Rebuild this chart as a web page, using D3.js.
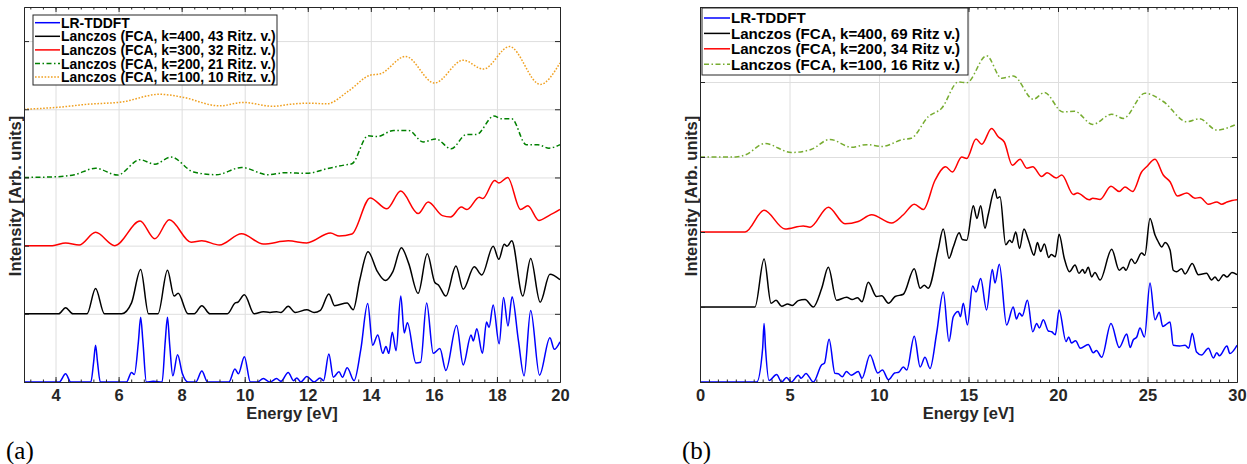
<!DOCTYPE html>
<html>
<head>
<meta charset="utf-8">
<script src="https://d3js.org/d3.v7.min.js"></script>
<style>
  body { margin: 0; background: #fff; }
  svg { display: block; font-family: "Liberation Sans", Arial, sans-serif; }
  .grid line { stroke: #dedede; stroke-width: 1; }
  .grid path { display: none; }
  .ax path, .ax line { stroke: #262626; stroke-width: 1; }
  .ax text { font-weight: bold; font-size: 16.5px; fill: #262626; }
</style>
</head>
<body>
<script>
// ---- panel (a) : energy [eV], intensity above each baseline ----
var leftTddft = [
  [3,0],[4.12,0],[4.32,0.12],[4.48,0],
  [5.12,0],[5.21,0.3],[5.27,0.54],[5.33,0.3],[5.42,0],
  [6.25,0],[6.41,0.14],[6.5,0.11],[6.63,0.6],[6.70,0.95],[6.77,0.6],[6.88,0],
  [7.1,0.01],[7.38,0],[7.48,0.6],[7.55,0.95],[7.62,0.55],[7.72,0.09],[7.87,0.40],[8.02,0.13],[8.2,0],
  [8.45,0],[8.64,0.16],[8.82,0],
  [9.5,0],[9.69,0.19],[9.8,0.12],[9.99,0.37],[10.18,0],
  [10.4,0],[10.59,0.05],[10.8,0],[11.01,0.05],[11.15,0.01],[11.38,0.14],[11.55,0.02],
  [11.65,0.06],[11.78,0],[11.97,0.08],[12.2,0],[12.39,0.06],[12.5,0.02],[12.67,0.41],
  [12.81,0.07],[12.99,0.15],[13.1,0.07],[13.25,0.21],[13.47,0.02],[13.68,0.47],[13.9,1.15],
  [14.06,0.54],[14.22,0.69],[14.38,0.42],[14.48,0.52],[14.57,0.42],[14.68,0.73],[14.8,0.46],
  [14.95,1.26],[15.06,0.72],[15.16,0.87],[15.43,0.28],[15.58,0.29],[15.77,1.16],[15.98,0.42],
  [16.19,0.49],[16.38,0.17],[16.72,0.83],[16.93,0.25],[17.18,0.69],[17.25,0.6],[17.36,0.78],
  [17.54,0.42],[17.67,0.88],[17.75,0.8],[17.88,1.13],[18.07,0.56],[18.21,1.24],[18.35,0.82],
  [18.48,1.25],[18.68,0.61],[18.86,0.09],[19.07,1.05],[19.35,0.1],[19.68,0.65],[19.82,0.48],[20,0.59]
];
var leftK400 = [
  [3,0],[4.1,0],[4.32,0.09],[4.55,0],
  [5.0,0],[5.27,0.37],[5.55,0],
  [6.1,0],[6.41,0.16],[6.70,0.65],[6.95,0],
  [7.25,0],[7.55,0.64],[7.76,0.26],[7.89,0.30],[8.2,0],
  [8.4,0],[8.64,0.12],[8.9,0],
  [9.45,0],[9.7,0.16],[9.78,0.17],[9.99,0.28],[10.3,0],
  [10.59,0.03],[10.8,0.02],[11.01,0.03],[11.15,0.02],[11.38,0.11],[11.6,0.02],[11.97,0.06],
  [12.2,0.02],[12.4,0.05],[12.67,0.29],[12.85,0.12],[13.25,0.16],[13.44,0.06],[13.65,0.5],
  [13.91,0.91],[14.21,0.62],[14.46,0.49],[14.7,0.62],[14.97,0.97],[15.2,0.74],[15.5,0.30],
  [15.79,0.88],[16.03,0.46],[16.15,0.42],[16.38,0.26],[16.7,0.70],[16.93,0.36],[17.28,0.69],
  [17.52,0.57],[17.88,0.99],[18.06,0.80],[18.23,1.02],[18.32,0.99],[18.47,1.07],[18.82,0.26],
  [19.07,0.81],[19.37,0.17],[19.68,0.58],[20,0.50]
];
var leftK300 = [
  [3,0],[3.9,0],[4.32,0.04],[4.75,0.01],[5.27,0.195],[5.88,0],[6.68,0.36],[7.15,0.10],
  [7.61,0.38],[8.3,0.05],[8.64,0.07],[9.2,0.01],[9.9,0.175],[10.59,0.025],[11.38,0.07],
  [11.97,0.04],[12.72,0.185],[13.0,0.14],[13.4,0.17],[13.98,0.70],[14.51,0.54],[14.95,0.80],
  [15.5,0.47],[15.82,0.64],[16.27,0.44],[16.53,0.42],[16.87,0.565],[17.05,0.53],[17.44,0.71],
  [17.55,0.69],[17.93,0.955],[18.06,0.92],[18.34,1.0],[18.75,0.53],[18.98,0.585],[19.33,0.37],
  [19.65,0.44],[20,0.53]
];
var leftK200 = [
  [3,0],[4.0,0.01],[4.6,0.04],[5.27,0.135],[5.96,0.035],[6.68,0.26],[7.15,0.195],[7.66,0.30],
  [8.38,0.08],[9.1,0.04],[9.9,0.146],[10.74,0.04],[11.3,0.07],[11.97,0.06],[12.6,0.127],
  [13.2,0.185],[13.4,0.2],[13.91,0.61],[14.2,0.60],[14.73,0.69],[15.2,0.69],[15.66,0.52],
  [16.06,0.565],[16.55,0.42],[17.03,0.63],[17.35,0.63],[17.9,0.90],[18.15,0.86],[18.47,0.86],
  [18.93,0.48],[19.3,0.48],[19.65,0.43],[20,0.48]
];
var leftK100 = [
  [3,0],[4.2,0.034],[5.0,0.073],[6.1,0.107],[7.3,0.22],[8.0,0.18],[9.2,0.05],[9.95,0.10],
  [10.9,0.044],[11.44,0.073],[12.0,0.09],[12.6,0.08],[13.3,0.27],[13.98,0.50],[14.3,0.52],
  [15.1,0.775],[16.02,0.385],[16.93,0.72],[17.57,0.59],[18.4,0.92],[19.37,0.365],[20,0.68]
];

// ---- panel (b) ----
var rightTddft = [
  [0,0],[3.17,0],[3.5,0.45],[3.58,0.78],[3.66,0.45],[3.86,0.02],[4.28,0.10],[4.56,0],[4.83,0.06],[5.1,0],[5.49,0.09],
  [5.65,0.05],[5.92,0.115],[6.33,0],[6.8,0.23],[6.95,0.25],[7.21,0.57],[7.54,0.115],[7.72,0.11],
  [7.95,0.07],[8.18,0.14],[8.45,0.09],[8.84,0.14],[9.05,0.05],[9.5,0.36],[9.93,0.12],[10.19,0.16],
  [10.53,0.03],[10.87,0.12],[11.1,0.13],[11.36,0.2],[11.55,0.16],[11.97,0.61],[12.3,0.2],
  [12.57,0.33],[12.85,0.18],[13.22,0.65],[13.59,1.2],[13.91,0.54],[14.15,0.87],[14.43,0.94],
  [14.55,0.87],[14.71,1.05],[14.94,0.76],[15.23,1.28],[15.42,1.2],[15.68,1.38],[16.01,0.96],
  [16.33,1.5],[16.48,1.32],[16.72,1.57],[17.13,0.76],[17.5,1.0],[17.68,0.84],[17.84,0.92],
  [18.0,0.88],[18.29,1.09],[18.59,0.67],[18.81,0.78],[18.96,0.72],[19.18,0.83],[19.46,0.68],
  [19.65,0.67],[19.85,0.63],[20.06,0.96],[20.45,0.54],[20.6,0.6],[20.75,0.52],[20.98,0.55],
  [21.25,0.45],[21.69,0.5],[21.97,0.39],[22.15,0.42],[22.44,0.33],[22.96,0.78],[23.42,0.46],
  [23.84,0.64],[24.03,0.46],[24.2,0.56],[24.4,0.6],[24.58,0.72],[24.83,0.6],[25.14,1.32],
  [25.42,0.83],[25.66,0.93],[25.85,0.74],[26.0,0.76],[26.26,0.8],[26.44,0.49],[26.8,0.48],
  [27.1,0.49],[27.3,0.45],[27.5,0.65],[27.74,0.4],[28.02,0.36],[28.4,0.45],[28.68,0.32],
  [28.87,0.39],[29.02,0.35],[29.44,0.48],[29.6,0.38],[30,0.49]
];
var rightK400 = [
  [0,0],[3.07,0],[3.58,0.64],[3.97,0.05],[4.25,0.09],[4.56,0.01],[4.9,0.04],[5.15,0.02],
  [5.49,0.085],[5.87,0.1],[6.33,0],[6.8,0.25],[7.17,0.53],[7.63,0.09],[8.19,0.13],[8.5,0.1],
  [8.8,0.125],[9.05,0.07],[9.4,0.33],[9.86,0.14],[10.15,0.15],[10.53,0.05],[10.9,0.14],
  [11.36,0.17],[11.97,0.51],[12.3,0.25],[12.53,0.29],[12.75,0.25],[13.3,0.76],[13.59,1.04],
  [13.91,0.65],[14.15,0.8],[14.48,0.99],[14.65,0.9],[14.9,0.89],[15.27,1.35],[15.47,1.18],
  [15.68,1.35],[15.92,1.05],[16.1,1.23],[16.48,1.57],[16.6,1.45],[16.76,1.47],[17.08,0.83],
  [17.3,0.89],[17.43,0.86],[17.64,1.0],[17.85,0.78],[18.1,1.04],[18.35,0.89],[18.66,0.69],
  [18.85,0.86],[19.03,0.74],[19.24,0.84],[19.48,0.66],[19.62,0.7],[19.85,0.67],[20.06,0.97],
  [20.35,0.65],[20.64,0.47],[20.95,0.56],[21.17,0.45],[21.38,0.5],[21.5,0.45],[21.69,0.53],
  [21.88,0.40],[22.06,0.46],[22.35,0.36],[23.0,0.77],[23.42,0.49],[23.65,0.53],[23.8,0.49],
  [24.1,0.64],[24.3,0.58],[24.67,0.72],[24.85,0.69],[25.14,1.18],[25.42,0.96],[25.6,0.87],
  [25.8,0.8],[25.98,0.86],[26.26,0.76],[26.44,0.49],[26.63,0.47],[26.9,0.51],[27.1,0.44],
  [27.5,0.58],[27.84,0.43],[28.3,0.45],[28.58,0.36],[28.77,0.4],[28.96,0.35],[29.25,0.43],
  [29.44,0.4],[29.72,0.46],[30,0.43]
];
var rightK200 = [
  [0,0],[2.52,0],[3.58,0.29],[4.75,0.04],[5.77,0.08],[6.15,0.065],[7.17,0.33],[8.1,0.11],
  [8.84,0.14],[9.59,0.23],[10.7,0.12],[11.36,0.23],[11.97,0.37],[12.48,0.30],[13.13,0.69],
  [13.72,0.87],[14.1,0.80],[14.62,1.0],[14.9,0.98],[15.42,1.24],[15.74,1.17],[16.29,1.38],
  [16.66,1.27],[17.0,1.2],[17.45,0.89],[17.88,0.97],[18.26,0.85],[18.59,0.87],[19.09,0.74],
  [19.39,0.79],[19.9,0.72],[20.21,0.76],[20.86,0.5],[21.08,0.52],[21.75,0.43],[21.94,0.45],
  [22.35,0.435],[22.96,0.61],[23.42,0.54],[23.74,0.6],[24.17,0.54],[24.67,0.8],[24.95,0.87],
  [25.42,0.97],[25.88,0.76],[26.26,0.67],[26.67,0.48],[27.2,0.52],[27.65,0.45],[27.94,0.46],
  [28.4,0.37],[28.87,0.4],[29.15,0.37],[29.44,0.4],[29.72,0.42],[30,0.43]
];
var rightK100 = [
  [0,0],[2.0,0],[2.55,0.03],[3.63,0.18],[5.1,0.06],[6.2,0.1],[7.26,0.235],[8.47,0.13],
  [9.31,0.165],[10.15,0.14],[11.36,0.235],[11.8,0.25],[12.76,0.54],[13.5,0.65],[14.43,1.0],
  [14.9,0.99],[16.01,1.35],[16.85,1.05],[17.5,1.08],[18.62,0.77],[19.24,0.86],[20.27,0.60],
  [20.92,0.61],[21.94,0.435],[23.0,0.57],[23.65,0.515],[24.86,0.85],[25.88,0.74],[27.2,0.47],
  [27.9,0.51],[28.87,0.36],[30,0.44]
];

var leftLabels = ["LR-TDDFT", "Lanczos (FCA, k=400, 43 Ritz. v.)", "Lanczos (FCA, k=300, 32 Ritz. v.)",
  "Lanczos (FCA, k=200, 21 Ritz. v.)", "Lanczos (FCA, k=100, 10 Ritz. v.)"];
var rightLabels = ["LR-TDDFT", "Lanczos (FCA, k=400, 69 Ritz v.)", "Lanczos (FCA, k=200, 34 Ritz v.)",
  "Lanczos (FCA, k=100, 16 Ritz v.)"];
var leftXTicks = [4, 6, 8, 10, 12, 14, 16, 18, 20];
var rightXTicks = [0, 5, 10, 15, 20, 25, 30];
var yTicks = [0, 1, 2, 3, 4, 5];

var styles = {
  blue:   { color: "#0000ff", dash: null },
  black:  { color: "#000000", dash: null },
  red:    { color: "#ff0000", dash: null },
  dgreen: { color: "#008000", dash: "5,2.5,1.5,2.5" },
  orange: { color: "#f0a020", dash: "1.6,1.6" },
  lgreen: { color: "#77ac30", dash: "5,2.5,1.5,2.5" }
};

var svg = d3.select("body").append("svg").attr("width", 1247).attr("height", 464);
svg.append("rect").attr("width", 1247).attr("height", 464).attr("fill", "#fff");

function drawPanel(p) {
  var x = d3.scaleLinear().domain(p.xDomain).range([p.left, p.right]);
  var y = d3.scaleLinear().domain(p.yDomain).range([p.bottom, p.top]);
  var h = p.bottom - p.top, w = p.right - p.left;
  var g = svg.append("g");

  var clipId = "clip" + p.name;
  g.append("clipPath").attr("id", clipId).append("rect")
    .attr("x", p.left).attr("y", p.top).attr("width", w).attr("height", h);

  // grid
  g.append("g").attr("class", "grid").attr("transform", "translate(0," + p.bottom + ")")
    .call(d3.axisBottom(x).tickValues(p.xTicks).tickSize(-h).tickFormat(""));
  g.append("g").attr("class", "grid").attr("transform", "translate(" + p.left + ",0)")
    .call(d3.axisLeft(y).tickValues(yTicks).tickSize(-w).tickFormat(""));

  // curves, each lifted onto its own baseline
  var line = d3.line()
    .x(function(d) { return x(d[0]); })
    .y(function(d) { return y(d[1]); })
    .curve(d3.curveMonotoneX);

  p.series.forEach(function(s, i) {
    var st = styles[s.style];
    var pts = s.data.map(function(d) { return [d[0], d[1] + i]; });
    g.append("path")
      .attr("clip-path", "url(#" + clipId + ")")
      .attr("d", line(pts))
      .attr("fill", "none")
      .attr("stroke", st.color)
      .attr("stroke-width", 1.5)
      .attr("stroke-dasharray", st.dash)
      .attr("stroke-linejoin", "round");
  });

  // axes box with inward ticks
  g.append("g").attr("class", "ax").attr("transform", "translate(0," + p.bottom + ")")
    .call(d3.axisBottom(x).tickValues(p.xTicks).tickSizeInner(-5).tickSizeOuter(0).tickPadding(7).tickFormat(d3.format("d")));
  g.append("g").attr("class", "ax").attr("transform", "translate(0," + p.bottom + ")")
    .call(d3.axisBottom(x).tickValues(p.minor).tickSizeInner(-2.5).tickSizeOuter(0).tickFormat(""));
  g.append("g").attr("class", "ax").attr("transform", "translate(0," + p.top + ")")
    .call(d3.axisTop(x).tickValues(p.xTicks).tickSizeInner(-5).tickSizeOuter(0).tickFormat(""));
  g.append("g").attr("class", "ax").attr("transform", "translate(0," + p.top + ")")
    .call(d3.axisTop(x).tickValues(p.minor).tickSizeInner(-2.5).tickSizeOuter(0).tickFormat(""));
  g.append("g").attr("class", "ax").attr("transform", "translate(" + p.left + ",0)")
    .call(d3.axisLeft(y).tickValues(yTicks).tickSizeInner(-5).tickSizeOuter(0).tickFormat(""));
  g.append("g").attr("class", "ax").attr("transform", "translate(" + p.right + ",0)")
    .call(d3.axisRight(y).tickValues(yTicks).tickSizeInner(-5).tickSizeOuter(0).tickFormat(""));

  // axis labels
  g.append("text").attr("x", (p.left + p.right) / 2).attr("y", p.bottom + 37)
    .attr("text-anchor", "middle").attr("font-weight", "bold").attr("font-size", 16.5).attr("fill", "#262626")
    .text("Energy [eV]");
  g.append("text").attr("transform", "translate(" + p.yLabelX + ",196) rotate(-90)")
    .attr("text-anchor", "middle").attr("font-weight", "bold").attr("font-size", 16.5).attr("fill", "#262626")
    .text("Intensity [Arb. units]");
  g.append("text").attr("x", p.tagX).attr("y", 459)
    .attr("font-family", "'Liberation Serif', 'DejaVu Serif', serif").attr("font-size", 25).attr("fill", "#000")
    .text(p.tag);

  // legend
  var lg = p.legend;
  var leg = g.append("g");
  leg.append("rect").attr("x", lg.x).attr("y", lg.y).attr("width", lg.w).attr("height", lg.h)
    .attr("fill", "#fff").attr("stroke", "#262626").attr("stroke-width", 1);
  p.series.forEach(function(s, i) {
    var st = styles[s.style];
    var cy = lg.y + lg.first + i * lg.step;
    leg.append("line").attr("x1", lg.x + 2).attr("x2", lg.x + lg.sample).attr("y1", cy).attr("y2", cy)
      .attr("stroke", st.color).attr("stroke-width", 1.5).attr("stroke-dasharray", st.dash);
    leg.append("text").attr("x", lg.x + lg.sample + 1).attr("y", cy).attr("dy", "0.36em")
      .attr("font-weight", "bold").attr("font-size", lg.font).attr("fill", "#000")
      .text(p.labels[i]);
  });
}

function minorTicks(lo, hi, step) {
  var out = [];
  for (var v = lo; v <= hi + 1e-9; v += step) out.push(+v.toFixed(3));
  return out;
}

drawPanel({
  name: "a", left: 24, right: 560, top: 7, bottom: 382,
  xDomain: [3, 20], yDomain: [0, 5.5],
  xTicks: leftXTicks, minor: minorTicks(3.2, 20, 0.4),
  yLabelX: 21, tagX: 6, tag: "(a)",
  labels: leftLabels,
  series: [
    { data: leftTddft, style: "blue" },
    { data: leftK400, style: "black" },
    { data: leftK300, style: "red" },
    { data: leftK200, style: "dgreen" },
    { data: leftK100, style: "orange" }
  ],
  legend: { x: 33, y: 15, w: 244, h: 70, first: 7.7, step: 13.6, sample: 27, font: 13.9 }
});

drawPanel({
  name: "b", left: 700, right: 1237, top: 7, bottom: 382,
  xDomain: [0, 30], yDomain: [0, 5],
  xTicks: rightXTicks, minor: minorTicks(0.5, 30, 0.5),
  yLabelX: 697, tagX: 682, tag: "(b)",
  labels: rightLabels,
  series: [
    { data: rightTddft, style: "blue" },
    { data: rightK400, style: "black" },
    { data: rightK200, style: "red" },
    { data: rightK100, style: "lgreen" }
  ],
  legend: { x: 702, y: 8, w: 266, h: 67, first: 10, step: 15.4, sample: 28, font: 15.1 }
});
</script>
</body>
</html>
